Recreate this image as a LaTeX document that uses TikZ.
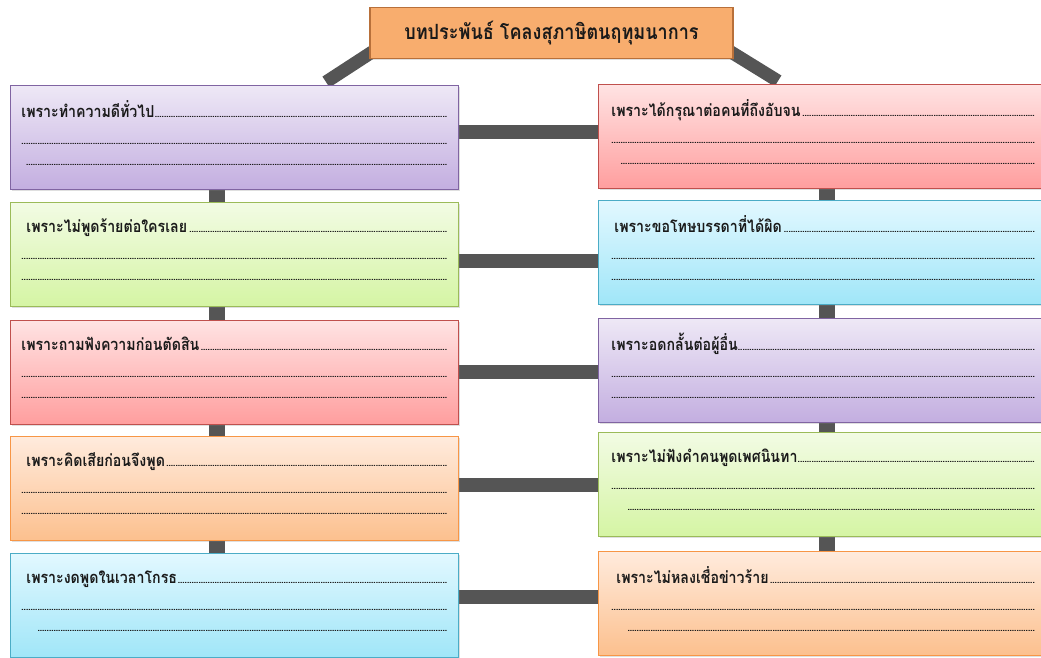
\documentclass[tikz,border=0pt]{standalone}
\usepackage{fontspec}
\newfontfamily\thai[Script=Thai]{Loma}
\newfontfamily\thain[Script=Thai,FakeStretch=0.86]{Loma}
\usetikzlibrary{shadows,calc}
\pgfdeclarelayer{bg}
\pgfsetlayers{bg,main}
\definecolor{barc}{HTML}{555555}
\definecolor{purT}{HTML}{EEE8F6}\definecolor{purB}{HTML}{C3AEE0}\definecolor{purD}{HTML}{8064A2}
\definecolor{grnT}{HTML}{F2FBE4}\definecolor{grnB}{HTML}{D5F5A4}\definecolor{grnD}{HTML}{9BBB59}
\definecolor{redT}{HTML}{FFE3E3}\definecolor{redB}{HTML}{FF9E9E}\definecolor{redD}{HTML}{C0504D}
\definecolor{orgT}{HTML}{FFEBDD}\definecolor{orgB}{HTML}{FCC08E}\definecolor{orgD}{HTML}{F79646}
\definecolor{bluT}{HTML}{E2F8FF}\definecolor{bluB}{HTML}{A0E6F8}\definecolor{bluD}{HTML}{4BACC6}
\definecolor{titF}{HTML}{F8AD6E}\definecolor{titD}{HTML}{B8703A}
\definecolor{txt}{HTML}{1A1A1A}
\newcommand{\dts}{\leaders\hbox to 2.3pt{\hss\thai\bfseries\fontsize{10}{10}\selectfont.\hss}\hfill}
% #1 width, #2 text, #3 indent line1, #4 indent line3
\newcommand{\bxt}[4]{\vbox{\baselineskip=27pt\lineskiplimit=0pt\color{txt}
  \hbox to #1{\hskip#3\thain\bfseries\fontsize{16.5}{18}\selectfont #2\dts}%
  \hbox to #1{\dts}\vskip-6pt
  \hbox to #1{\hskip#4\dts}\vskip 9pt}}
\tikzset{
  card/.style={draw=#1D, line width=0.8pt, top color=#1T, bottom color=#1B,
    shading angle=0, anchor=north west, inner sep=0pt,
    drop shadow={opacity=0.25, shadow xshift=1.2pt, shadow yshift=-1.2pt}},
  lcard/.style={card=#1, minimum width=448pt, minimum height=104pt},
  rcard/.style={card=#1, minimum width=450pt, minimum height=104pt},
  hbar/.style={barc, line width=14pt},
  vbar/.style={barc, line width=16pt},
  dbar/.style={barc, line width=13pt},
  title/.style={draw=titD, line width=1.5pt, fill=titF, minimum width=363pt,
    minimum height=51pt, font=\thain\bfseries\fontsize{21}{24}\selectfont, text=txt,
    drop shadow={opacity=0.25, shadow xshift=1.2pt, shadow yshift=-1.2pt}}
}
\begin{document}
\begin{tikzpicture}[x=1pt,y=-1pt]
\useasboundingbox (0,0) rectangle (1041,657);
\node[title] (T) at (551.5,33) {บทประพันธ์ โคลงสุภาษิตนฤทุมนาการ};
% left column
\node[lcard=pur] (L1) at (10,85) {\bxt{426pt}{เพราะทำความดีทั่วไป}{0pt}{3pt}};
\node[lcard=grn] (L2) at (10,202) {\bxt{426pt}{เพราะไม่พูดร้ายต่อใครเลย}{5pt}{0pt}};
\node[lcard=red] (L3) at (10,320) {\bxt{426pt}{เพราะถามฟังความก่อนตัดสิน}{0pt}{0pt}};
\node[lcard=org] (L4) at (10,436) {\bxt{426pt}{เพราะคิดเสียก่อนจึงพูด}{5pt}{0pt}};
\node[lcard=blu] (L5) at (10,553) {\bxt{426pt}{เพราะงดพูดในเวลาโกรธ}{5pt}{14pt}};
% right column
\node[rcard=red] (R1) at (598,84) {\bxt{424pt}{เพราะได้กรุณาต่อคนที่ถึงอับจน}{0pt}{8pt}};
\node[rcard=blu] (R2) at (598,200) {\bxt{424pt}{เพราะขอโทษบรรดาที่ได้ผิด}{3pt}{0pt}};
\node[rcard=pur] (R3) at (598,318) {\bxt{424pt}{เพราะอดกลั้นต่อผู้อื่น}{0pt}{0pt}};
\node[rcard=grn] (R4) at (598,432) {\bxt{424pt}{เพราะไม่ฟังคำคนพูดเพศนินทา}{0pt}{14pt}};
\node[rcard=org] (R5) at (598,551) {\bxt{424pt}{เพราะไม่หลงเชื่อข่าวร้าย}{5pt}{14pt}};
\begin{pgfonlayer}{bg}
  \draw[dbar] ([xshift=4pt,yshift=8pt]T.south west) -- ([xshift=316pt,yshift=3pt]L1.north west);
  \draw[dbar] ([xshift=-4pt,yshift=8pt]T.south east) -- ([xshift=180pt,yshift=3pt]R1.north west);
  \foreach \a/\b/\y in {L1/R1/132,L2/R2/261,L3/R3/372,L4/R4/485,L5/R5/597}
    \draw[hbar] (\a.east |- 0,\y) -- (\b.west |- 0,\y);
  \foreach \a/\b in {L1/L2,L2/L3,L3/L4,L4/L5}
    \draw[vbar] ([xshift=207pt,yshift=2pt]\a.south west) -- ([xshift=207pt,yshift=-2pt]\b.north west);
  \foreach \a/\b in {R1/R2,R2/R3,R3/R4,R4/R5}
    \draw[vbar] ([xshift=229pt,yshift=2pt]\a.south west) -- ([xshift=229pt,yshift=-2pt]\b.north west);
\end{pgfonlayer}
\end{tikzpicture}
\end{document}
